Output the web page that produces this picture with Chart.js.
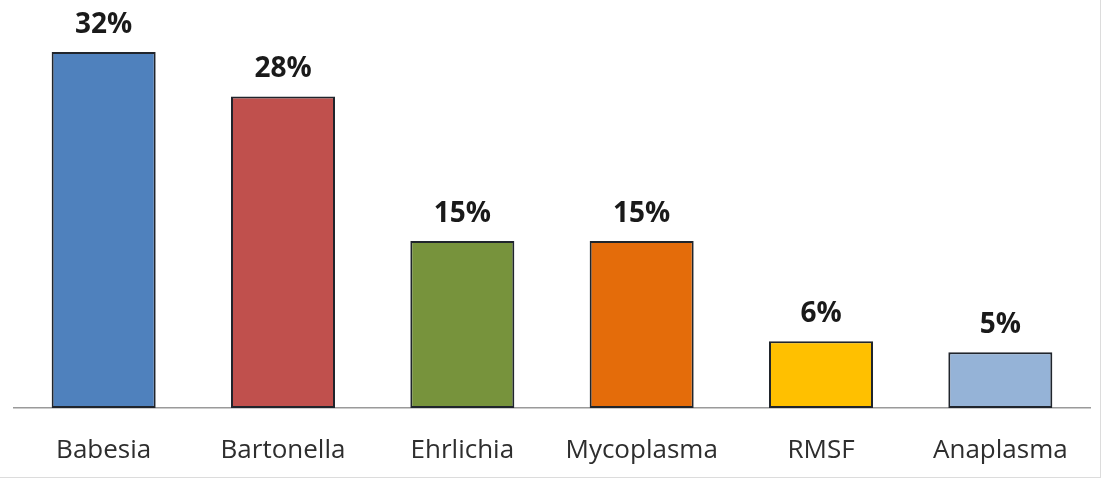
<!DOCTYPE html>
<html>
<head>
<meta charset="utf-8">
<script src="https://cdn.jsdelivr.net/npm/chart.js@4"></script>
<style>
  html, body { margin: 0; padding: 0; background: #fff; }
  #wrap {
    position: relative;
    width: 1100px;
    height: 477px;
    border-right: 1px solid #dcdcdc;
    border-bottom: 1px solid #dcdcdc;
  }
</style>
</head>
<body>
<div id="wrap"><canvas id="infectionChart"></canvas></div>
<script>
'use strict';

// --- Data ---
const CATEGORIES = ['Babesia', 'Bartonella', 'Ehrlichia', 'Mycoplasma', 'RMSF', 'Anaplasma'];
const PERCENTS = [32, 28, 15, 15, 6, 5];
const BAR_COLORS = ['#4f81bd', '#c0504d', '#77933c', '#e46c0a', '#ffc000', '#95b3d7'];
const Y_MAX = 35;

// labels above bars ("32%")
const valueLabels = {
  id: 'valueLabels',
  afterDatasetsDraw(chart) {
    const ctx = chart.ctx;
    const meta = chart.getDatasetMeta(0);
    ctx.save();
    ctx.font = 'bold 28px "Open Sans", sans-serif';
    ctx.fillStyle = '#1a1a1a';
    ctx.textAlign = 'center';
    ctx.textBaseline = 'alphabetic';
    meta.data.forEach((bar, i) => {
      ctx.fillText(PERCENTS[i] + '%', bar.x, bar.y - 19);
    });
    ctx.restore();
  },
};

(function initChart() {
  const c = document.getElementById('infectionChart');
  if (!c) return;
  new Chart(c.getContext('2d'), {
    type: 'bar',
    data: {
      labels: CATEGORIES,
      datasets: [{
        data: PERCENTS,
        backgroundColor: BAR_COLORS,
        borderColor: '#20252c',
        borderWidth: 2,
        borderSkipped: false,
        barPercentage: 0.58,
        categoryPercentage: 1,
      }],
    },
    options: {
      responsive: true,
      maintainAspectRatio: false,
      animation: false,
      layout: { padding: { left: 14, right: 10, top: 18.6, bottom: 7 } },
      plugins: {
        legend: { display: false },
        tooltip: { enabled: false },
      },
      scales: {
        y: { display: false, min: 0, max: Y_MAX },
        x: {
          grid: { display: false },
          border: { display: true, color: '#9a9a9a', width: 1.5 },
          ticks: {
            padding: 19,
            color: '#2e2e2e',
            font: { family: '"Open Sans", sans-serif', size: 26 },
          },
          afterFit: s => { s.height = 62; },
        },
      },
    },
    plugins: [valueLabels],
  });
})();
</script>
</body>
</html>
